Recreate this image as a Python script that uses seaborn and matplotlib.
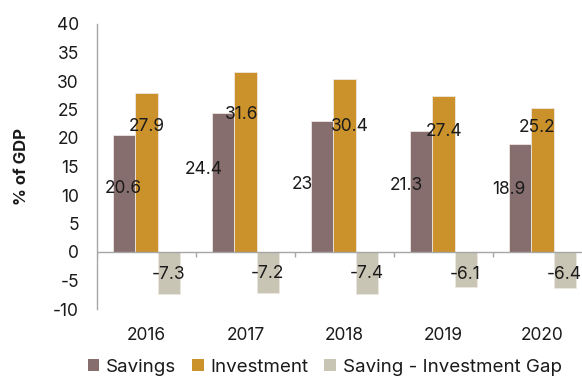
import matplotlib
matplotlib.use("Agg")
import matplotlib.pyplot as plt
from matplotlib.patches import Patch
import pandas as pd
import seaborn as sns

years = ["2016", "2017", "2018", "2019", "2020"]
series = ["Savings", "Investment", "Saving - Investment Gap"]
savings = [20.6, 24.4, 23.0, 21.3, 18.9]
investment = [27.9, 31.6, 30.4, 27.4, 25.2]
gap = [-7.3, -7.2, -7.4, -6.1, -6.4]

colors = ["#876E6E", "#CB922B", "#C8C5B4"]

# where each value label sits: x offset (in categories) from the group centre, y in data units
savings_lbl_dx = [-0.237, -0.419, -0.429, -0.379, -0.338]
savings_lbl_y = [11.2, 14.4, 11.9, 11.6, 10.9]
invest_lbl_dx = [0.0, -0.035, 0.056, 0.01, -0.056]
invest_lbl_y = [22.1, 24.2, 22.1, 21.1, 21.8]
gap_lbl_dx = [0.222, 0.222, 0.222, 0.222, 0.222]
gap_lbl_y = [-3.9, -3.7, -3.7, -4.0, -4.0]

df = pd.DataFrame({
    "year": years * 3,
    "series": [series[0]] * 5 + [series[1]] * 5 + [series[2]] * 5,
    "value": savings + investment + gap,
})

sns.set_theme(style="white")
plt.rcParams["font.family"] = ["Inter", "DejaVu Sans"]

fig = plt.figure(figsize=(5.82, 3.76), dpi=100)
ax = fig.add_axes([97 / 582, 67 / 376, 495 / 582, 285 / 376])

sns.barplot(data=df, x="year", y="value", hue="series", hue_order=series,
            order=years, palette=colors, saturation=1, width=0.667, dodge=True,
            edgecolor="#EDE6E2", linewidth=0.6, legend=False, ax=ax,
            errorbar=None)

ax.set_xlim(-0.5, 4.5)
ax.set_ylim(-10, 40)
ax.set_yticks(range(-10, 45, 5))
ax.set_yticklabels([str(v) for v in range(-10, 45, 5)], fontsize=12.5, color="#1A1A1A")
ax.set_xticks(range(len(years)))
ax.set_xticklabels(years, fontsize=12.5, color="#1A1A1A")
ax.tick_params(axis="x", length=0, pad=13)
ax.tick_params(axis="y", length=5, width=1, color="#A6A6A6", pad=8)

for s in ["top", "right", "bottom"]:
    ax.spines[s].set_visible(False)
ax.spines["left"].set_color("#A6A6A6")
ax.spines["left"].set_linewidth(1)

# category axis drawn along zero, with ticks between groups
ax.axhline(0, color="#A6A6A6", lw=1, zorder=3)
ax.vlines([i - 0.5 for i in range(len(years) + 1)], -0.9, 0, color="#A6A6A6", lw=1, zorder=3)

ax.set_xlabel("")
ax.set_ylabel("% of GDP", fontsize=12, fontweight="bold", color="#1A1A1A")
ax.yaxis.set_label_coords(-0.137, 0.5)

for i in range(len(years)):
    for vals, dx, ly in ((savings, savings_lbl_dx, savings_lbl_y),
                         (investment, invest_lbl_dx, invest_lbl_y),
                         (gap, gap_lbl_dx, gap_lbl_y)):
        ax.text(i + dx[i], ly[i], f"{vals[i]:g}", ha="center", va="center",
                fontsize=12.5, color="#1A1A1A", zorder=5)

handles = [Patch(facecolor=c, edgecolor="none") for c in colors]
fig.legend(handles, series, loc="center left", bbox_to_anchor=(88 / 582, 9 / 376),
           ncol=3, frameon=False, fontsize=13.5, borderpad=0, borderaxespad=0,
           handlelength=0.6, handleheight=0.6, handletextpad=0.37,
           columnspacing=0.85, labelcolor="#1A1A1A")

fig.savefig("out.png", dpi=100)
